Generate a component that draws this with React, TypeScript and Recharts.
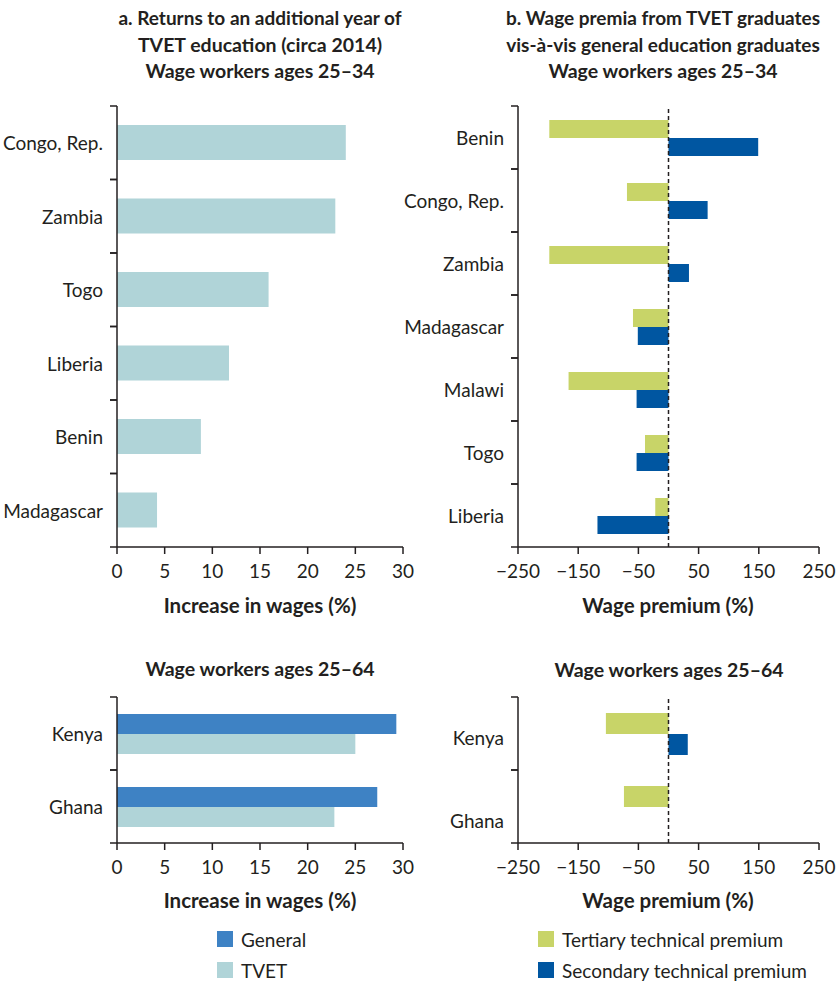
import React from "react";
import { BarChart, Bar, XAxis, YAxis, ReferenceLine } from "recharts";

const countriesA = ["Congo, Rep.", "Zambia", "Togo", "Liberia", "Benin", "Madagascar"];
const tvetReturnsA = [24.0, 22.9, 15.9, 11.75, 8.8, 4.2];

const countriesB = ["Benin", "Congo, Rep.", "Zambia", "Madagascar", "Malawi", "Togo", "Liberia"];
const tertiaryB = [-198, -69, -198, -59, -166, -39, -22];
const secondaryB = [149, 65, 34, -51, -53, -53, -118];

const countriesOlder = ["Kenya", "Ghana"];
const generalOlder = [29.3, 27.3];
const tvetOlder = [25.0, 22.8];
const tertiaryOlder = [-104, -74];
const secondaryOlder: (number | null)[] = [32, null];

const ticksReturns = [0, 5, 10, 15, 20, 25, 30];
const ticksPremium = [-250, -150, -50, 50, 150, 250];

const FONT = "Lato, 'Open Sans', sans-serif";
const INK = "#231f20";
const C_TVET = "#b0d4d8";
const C_GENERAL = "#3e82c4";
const C_TERTIARY = "#c8d468";
const C_SECONDARY = "#0056a1";

const fmtMinus = (v: number) => (v < 0 ? `\u2212${Math.abs(v)}` : `${v}`);

type SeriesDef = { key: string; color: string };

interface PanelProps {
  x: number;
  y: number;
  w: number;
  h: number;
  plotLeft: number;
  plotRight: number;
  plotTop: number;
  plotBottom: number;
  data: Record<string, any>[];
  series: SeriesDef[];
  domain: [number, number];
  ticks: number[];
  barSize: number;
  zeroLine?: boolean;
  labelShift?: Record<string, number>;
  tickFormatter?: (v: number) => string;
}

function Panel(p: PanelProps) {
  const axisW = p.plotLeft - p.x;
  const band = (p.plotBottom - p.plotTop) / p.data.length;
  const xAxisH = 30;

  const CategoryTick = (props: any) => {
    const { y, payload } = props;
    const shift = p.labelShift?.[payload.value] ?? 0;
    return (
      <g>
        <text
          x={axisW - 14}
          y={y + shift}
          textAnchor="end"
          dominantBaseline="central"
          fontSize={19}
          fontFamily={FONT}
          fill={INK}
        >
          {payload.value}
        </text>
        <line x1={axisW - 7} x2={axisW} y1={y - band / 2} y2={y - band / 2} stroke={INK} strokeWidth={1.5} />
        <line x1={axisW - 7} x2={axisW} y1={y + band / 2} y2={y + band / 2} stroke={INK} strokeWidth={1.5} />
      </g>
    );
  };

  return (
    <div style={{ position: "absolute", left: p.x, top: p.y }}>
      <BarChart
        width={p.w}
        height={p.h}
        data={p.data}
        layout="vertical"
        barGap={0}
        margin={{
          top: p.plotTop - p.y,
          left: 0,
          right: p.x + p.w - p.plotRight,
          bottom: p.y + p.h - p.plotBottom - xAxisH,
        }}
      >
        <XAxis
          type="number"
          domain={p.domain}
          ticks={p.ticks}
          interval={0}
          height={xAxisH}
          tickSize={7}
          tickMargin={11}
          axisLine={{ stroke: INK, strokeWidth: 1.5 }}
          tickLine={{ stroke: INK, strokeWidth: 1.5 }}
          tick={{ fontSize: 19, fontFamily: FONT, fill: INK }}
          tickFormatter={p.tickFormatter}
        />
        <YAxis
          type="category"
          dataKey="country"
          width={axisW}
          interval={0}
          axisLine={{ stroke: INK, strokeWidth: 1.5 }}
          tickLine={false}
          tick={<CategoryTick />}
        />
        {p.series.map((s) => (
          <Bar key={s.key} dataKey={s.key} fill={s.color} barSize={p.barSize} isAnimationActive={false} />
        ))}
        {p.zeroLine && <ReferenceLine x={0} stroke={INK} strokeWidth={1.5} strokeDasharray="4 3" />}
      </BarChart>
    </div>
  );
}

function Centered({ cx, cy, children, size = 19.5 }: any) {
  return (
    <div
      style={{
        position: "absolute",
        left: cx - 250,
        top: cy - 13,
        width: 500,
        height: 26,
        lineHeight: "26px",
        textAlign: "center",
        fontFamily: FONT,
        fontWeight: 700,
        fontSize: size,
        color: INK,
        whiteSpace: "nowrap",
      }}
    >
      {children}
    </div>
  );
}

function LegendItem({ x, y, color, label }: any) {
  return (
    <div style={{ position: "absolute", left: x, top: y, display: "flex", alignItems: "center", height: 16 }}>
      <div style={{ width: 16, height: 16, background: color }} />
      <span style={{ marginLeft: 8, fontFamily: FONT, fontSize: 19, color: INK, whiteSpace: "nowrap" }}>{label}</span>
    </div>
  );
}

export default function App() {
  const dataA = countriesA.map((c, i) => ({ country: c, tvet: tvetReturnsA[i] }));
  const dataB = countriesB.map((c, i) => ({ country: c, tertiary: tertiaryB[i], secondary: secondaryB[i] }));
  const dataC = countriesOlder.map((c, i) => ({ country: c, general: generalOlder[i], tvet: tvetOlder[i] }));
  const dataD = countriesOlder.map((c, i) => ({ country: c, tertiary: tertiaryOlder[i], secondary: secondaryOlder[i] }));

  return (
    <div style={{ position: "absolute", left: 0, top: 0, width: 839, height: 981, background: "#fff" }}>
      <Centered cx={260} cy={18} size={19}>a. Returns to an additional year of</Centered>
      <Centered cx={260} cy={45}>TVET education (circa 2014)</Centered>
      <Centered cx={260} cy={71}>Wage workers ages 25–34</Centered>

      <Centered cx={663} cy={18} size={19}>b. Wage premia from TVET graduates</Centered>
      <Centered cx={663} cy={45} size={19}>vis-à-vis general education graduates</Centered>
      <Centered cx={663} cy={71}>Wage workers ages 25–34</Centered>

      <Panel
        x={0} y={90} w={420} h={530}
        plotLeft={117} plotRight={403} plotTop={106} plotBottom={547}
        data={dataA}
        series={[{ key: "tvet", color: C_TVET }]}
        domain={[0, 30]} ticks={ticksReturns} barSize={35}
      />
      <Panel
        x={400} y={90} w={439} h={530}
        plotLeft={518} plotRight={819} plotTop={106} plotBottom={547}
        data={dataB}
        series={[{ key: "tertiary", color: C_TERTIARY }, { key: "secondary", color: C_SECONDARY }]}
        domain={[-250, 250]} ticks={ticksPremium} barSize={18} zeroLine tickFormatter={fmtMinus}
      />
      <Centered cx={260} cy={605} size={20.5}>Increase in wages (%)</Centered>
      <Centered cx={668} cy={605} size={20.5}>Wage premium (%)</Centered>

      <Centered cx={260} cy={669}>Wage workers ages 25–64</Centered>
      <Centered cx={669} cy={670}>Wage workers ages 25–64</Centered>

      <Panel
        x={0} y={685} w={420} h={200}
        plotLeft={117} plotRight={403} plotTop={697} plotBottom={843}
        data={dataC}
        series={[{ key: "general", color: C_GENERAL }, { key: "tvet", color: C_TVET }]}
        domain={[0, 30]} ticks={ticksReturns} barSize={20}
      />
      <Panel
        x={400} y={685} w={439} h={200}
        plotLeft={518} plotRight={819} plotTop={697} plotBottom={843}
        data={dataD}
        series={[{ key: "tertiary", color: C_TERTIARY }, { key: "secondary", color: C_SECONDARY }]}
        domain={[-250, 250]} ticks={ticksPremium} barSize={21} zeroLine tickFormatter={fmtMinus}
        labelShift={{ Kenya: 4, Ghana: 14 }}
      />
      <Centered cx={260} cy={900} size={20.5}>Increase in wages (%)</Centered>
      <Centered cx={668} cy={900} size={20.5}>Wage premium (%)</Centered>

      <LegendItem x={217} y={931} color={C_GENERAL} label="General" />
      <LegendItem x={217} y={962} color={C_TVET} label="TVET" />
      <LegendItem x={538} y={931} color={C_TERTIARY} label="Tertiary technical premium" />
      <LegendItem x={538} y={962} color={C_SECONDARY} label="Secondary technical premium" />
    </div>
  );
}
